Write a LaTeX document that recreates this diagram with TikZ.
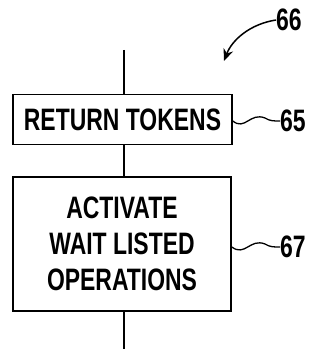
\documentclass[tikz,border=0pt]{standalone}
\usepackage{fontspec}
\setmainfont{Liberation Sans}[FakeStretch=0.74]
\usetikzlibrary{arrows.meta}
\begin{document}
\begin{tikzpicture}[x=1pt,y=-1pt,
  boxstyle/.style={draw,line width=1.6pt,inner sep=0pt,font=\fontsize{31}{36}\selectfont\bfseries,align=center},
  wire/.style={line width=1.6pt},
  lbl/.style={font=\fontsize{31}{36}\selectfont\bfseries,inner sep=0pt,anchor=west}]
\useasboundingbox (0,0) rectangle (322,352);
\node[boxstyle,minimum width=219pt,minimum height=50pt] (b1) at (122.5,119.5) {RETURN TOKENS};
\node[boxstyle,minimum width=218pt,minimum height=134pt] (b2) at (122,244) {ACTIVATE\\WAIT LISTED\\OPERATIONS};
\coordinate (top) at (124,50);
\coordinate (bot) at (124,349);
\draw[wire] (top) -- (b1.north -| top);
\draw[wire] (b1.south -| top) -- (b2.north -| top);
\draw[wire] (b2.south -| top) -- (bot);
\node[lbl] (l65) at (280,121) {65};
\node[lbl] (l67) at (280,247) {67};
\node[lbl] (l66) at (276,20) {66};
\draw[wire,line width=1.3pt] (b1.east |- l65) .. controls (245,131) and (250,112) .. (265,118) .. controls (270,121) and (273,121) .. (l65.west);
\draw[wire,line width=1.3pt] (b2.east |- l67) .. controls (245,257) and (250,238) .. (265,244) .. controls (270,247) and (273,247) .. (l67.west);
\draw[wire,line width=1.5pt,-{Stealth[length=12pt,width=10pt]}] (l66.west) .. controls (250,24) and (232,40) .. (224,61);
\end{tikzpicture}
\end{document}
